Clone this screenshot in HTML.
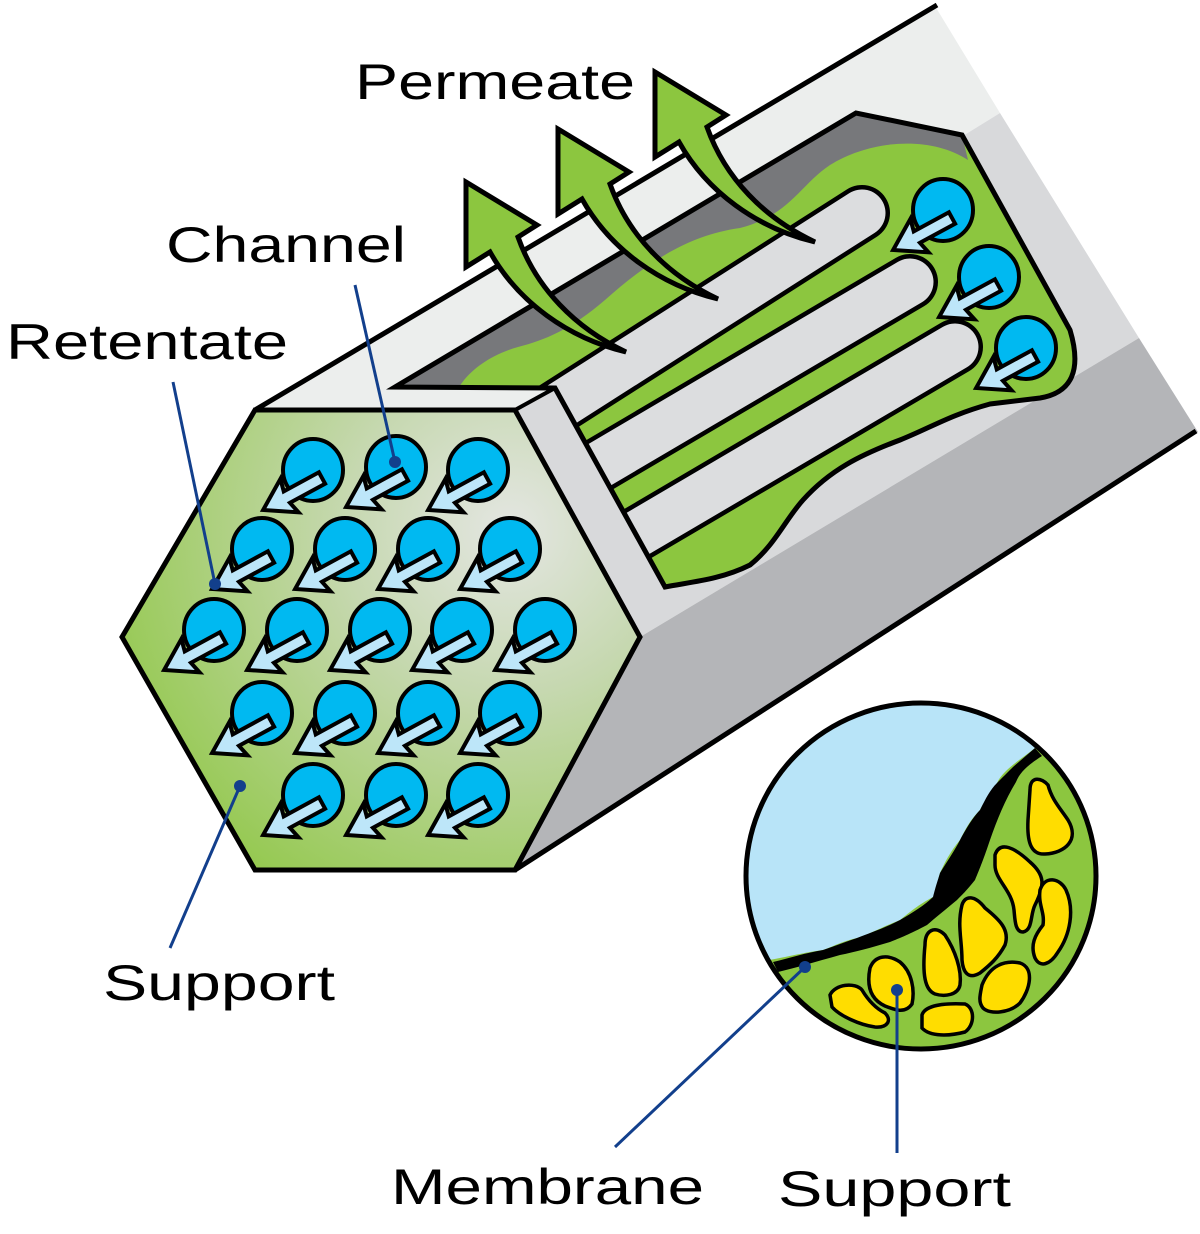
<!DOCTYPE html>
<html><head><meta charset="utf-8"><style>
html,body{margin:0;padding:0;background:#fff}
svg{display:block}
text{font-family:"Liberation Sans",sans-serif;fill:#000}
</style></head><body>
<svg width="1200" height="1234" viewBox="0 0 1200 1234" xmlns="http://www.w3.org/2000/svg">
<defs>
<radialGradient id="hg" cx="510" cy="530" r="470" gradientUnits="userSpaceOnUse">
<stop offset="0" stop-color="#e4e6e2"/><stop offset="0.35" stop-color="#c6d8b0"/><stop offset="1" stop-color="#8cc63f"/>
</radialGradient>
<clipPath id="cut"><path d="M395,387 L856,113 L962,135 L1070,330 Q1088,390 1040,398 L990,404 C950,415 930,428 900,440 C860,455 830,470 803,500 C785,520 775,545 750,565 C720,580 690,582 665,587 L555,388 Z"/></clipPath>
<clipPath id="circ"><ellipse cx="921" cy="876" rx="175" ry="173"/></clipPath>
<g id="ch">
<ellipse cx="0" cy="0" rx="30" ry="31" fill="#00b9f1" stroke="#000" stroke-width="4"/>
<polygon transform="translate(9,8) rotate(151.5)" points="0,-6.5 40,-6.5 37,-19 67,0 37,19 40,6.5 0,6.5" fill="#bde6f9" stroke="#000" stroke-width="4" stroke-linejoin="miter"/>
</g>
<path id="parr" d="M466,182 L537,225 L518,237 C536,288 575,328 626,352 C568,338 518,302 490,252 L466,267 Z" fill="#8cc63f" stroke="#000" stroke-width="5" stroke-linejoin="miter"/>
</defs>

<polygon points="255,410 935,6 1000,113 555,388 515,410" fill="#eceeed"/>
<polygon points="515,410 555,388 1000,113 1139,338 640,637" fill="#d8d9db"/>
<polygon points="640,637 1139,338 1198,432 515,870" fill="#b4b5b8"/>
<line x1="255" y1="410" x2="937" y2="5" stroke="#000" stroke-width="5"/>
<line x1="515" y1="870" x2="1196" y2="431" stroke="#000" stroke-width="5"/>
<line x1="515" y1="410" x2="555" y2="388" stroke="#000" stroke-width="4"/>

<path d="M395,387 L856,113 L962,135 L1070,330 Q1088,390 1040,398 L990,404 C950,415 930,428 900,440 C860,455 830,470 803,500 C785,520 775,545 750,565 C720,580 690,582 665,587 L555,388 Z" fill="#8cc63f"/>
<path d="M395,387 L856,113 L962,135 L968,160 C930,135 870,140 830,165 C800,185 790,215 740,228 C690,235 650,260 605,300 C570,330 545,340 518,347 C490,355 470,370 459,387 Z" fill="#77787b"/>
<g clip-path="url(#cut)" stroke-linecap="round">
<line x1="520" y1="431" x2="862" y2="213" stroke="#000" stroke-width="56"/>
<line x1="520" y1="431" x2="862" y2="213" stroke="#dcdddf" stroke-width="47"/>
<line x1="555" y1="491" x2="910" y2="282" stroke="#000" stroke-width="56"/>
<line x1="555" y1="491" x2="910" y2="282" stroke="#dcdddf" stroke-width="47"/>
<line x1="591" y1="561" x2="955" y2="347" stroke="#000" stroke-width="56"/>
<line x1="591" y1="561" x2="955" y2="347" stroke="#dcdddf" stroke-width="47"/>
</g>
<path d="M395,387 L856,113 L962,135 L1070,330 Q1088,390 1040,398 L990,404 C950,415 930,428 900,440 C860,455 830,470 803,500 C785,520 775,545 750,565 C720,580 690,582 665,587 L555,388 Z" fill="none" stroke="#000" stroke-width="5" stroke-linejoin="miter"/>
<use href="#ch" x="943" y="210"/>
<use href="#ch" x="989" y="277"/>
<use href="#ch" x="1026" y="348"/>

<use href="#parr"/>
<use href="#parr" x="92" y="-53"/>
<use href="#parr" x="189" y="-110"/>

<polygon points="122,637 255,410 515,410 640,637 515,870 255,870" fill="url(#hg)" stroke="#000" stroke-width="5" stroke-linejoin="miter"/>
<use href="#ch" x="313" y="470"/><use href="#ch" x="396" y="467"/><use href="#ch" x="478" y="470"/>
<use href="#ch" x="262" y="549"/><use href="#ch" x="345" y="549"/><use href="#ch" x="428" y="549"/><use href="#ch" x="510" y="549"/>
<use href="#ch" x="214" y="630"/><use href="#ch" x="297" y="630"/><use href="#ch" x="380" y="630"/><use href="#ch" x="462" y="630"/><use href="#ch" x="545" y="630"/>
<use href="#ch" x="262" y="713"/><use href="#ch" x="345" y="713"/><use href="#ch" x="428" y="713"/><use href="#ch" x="510" y="713"/>
<use href="#ch" x="313" y="795"/><use href="#ch" x="396" y="795"/><use href="#ch" x="478" y="795"/>

<g clip-path="url(#circ)">
<rect x="740" y="700" width="360" height="360" fill="#8cc63f"/>
<path d="M740,700 L1100,700 L1100,745 L1035,748 C1020,760 1003,770 997,783 C990,795 985,800 980,810 C970,820 965,830 960,840 C950,852 945,862 940,873 C936,885 938,890 933,897 C918,905 910,912 900,920 C880,928 870,934 857,938 C840,942 832,947 823,950 C800,953 785,958 740,965 Z" fill="#b8e4f8"/>
<path d="M773,962 C790,958 805,953 823,950 C835,946 845,942 857,938 C870,933 885,928 900,920 C912,913 925,905 933,897 C936,885 938,880 940,873 C948,860 955,850 960,840 C968,825 975,815 980,810 C986,798 990,790 997,783 C1005,775 1010,770 1013,767 L1035,748 L1042,756 C1028,765 1020,772 1016,782 C1005,800 997,820 990,840 C984,858 980,868 975,880 C967,890 962,895 957,900 C945,910 935,918 927,925 C910,934 900,938 890,942 C870,948 855,952 840,955 C815,962 795,968 778,972 Z" fill="#000"/>
<g fill="#ffdd00" stroke="#000" stroke-width="3.5">
<path d="M1030,790 C1030,775 1042,778 1048,785 C1052,800 1060,808 1068,820 C1080,840 1065,853 1045,854 C1030,855 1027,840 1028,820 Z"/>
<path d="M995,855 C1000,840 1015,848 1030,862 C1045,875 1045,885 1035,905 C1030,915 1033,930 1023,932 C1015,932 1015,920 1014,910 C1012,890 995,880 995,865 Z"/>
<path d="M1040,890 C1045,875 1060,878 1066,890 C1075,910 1070,935 1058,952 C1050,965 1040,968 1035,958 C1030,945 1035,935 1043,925 C1045,912 1038,905 1040,890 Z"/>
<path d="M962,905 C965,895 975,895 985,908 C1000,920 1010,930 1005,945 C998,958 990,965 980,973 C968,980 963,972 962,960 C962,940 957,925 962,905 Z"/>
<path d="M925,945 C925,930 935,925 945,935 C955,950 962,970 960,985 C958,995 945,997 935,994 C925,990 922,975 925,945 Z"/>
<path d="M982,985 C990,965 1005,960 1020,963 C1035,968 1030,990 1020,1003 C1010,1013 990,1015 983,1008 C978,1002 980,995 982,985 Z"/>
<path d="M870,968 C875,955 888,954 900,962 C912,972 915,990 912,1004 C905,1014 895,1010 885,1006 C872,1000 866,988 870,968 Z"/>
<path d="M830,995 C835,984 855,982 862,990 C868,1000 875,1008 885,1013 C892,1020 888,1028 875,1027 C860,1025 840,1016 832,1007 Z"/>
<path d="M922,1015 C925,1005 945,1003 965,1004 C975,1008 975,1025 965,1032 C950,1036 930,1037 922,1028 Z"/>
</g>
</g>
<ellipse cx="921" cy="876" rx="175" ry="173" fill="none" stroke="#000" stroke-width="5"/>

<g stroke="#123f8c" stroke-width="3" fill="#123f8c">
<line x1="355" y1="285" x2="395" y2="462"/><circle cx="395" cy="462" r="6" stroke="none"/>
<line x1="173" y1="382" x2="215" y2="584"/><circle cx="215" cy="584" r="6" stroke="none"/>
<line x1="170" y1="948" x2="240" y2="786"/><circle cx="240" cy="786" r="6" stroke="none"/>
<line x1="615" y1="1147" x2="805" y2="967"/><circle cx="805" cy="967" r="6" stroke="none"/>
<line x1="897" y1="1153" x2="897" y2="990"/><circle cx="897" cy="990" r="6" stroke="none"/>
</g>

<g font-size="50">
<text x="355" y="99" textLength="280" lengthAdjust="spacingAndGlyphs">Permeate</text>
<text x="166" y="262" textLength="240" lengthAdjust="spacingAndGlyphs">Channel</text>
<text x="6" y="359" textLength="282" lengthAdjust="spacingAndGlyphs">Retentate</text>
<text x="103" y="1000" textLength="232" lengthAdjust="spacingAndGlyphs">Support</text>
<text x="391" y="1204" textLength="313" lengthAdjust="spacingAndGlyphs">Membrane</text>
<text x="778" y="1206" textLength="233" lengthAdjust="spacingAndGlyphs">Support</text>
</g>
</svg>
</body></html>
